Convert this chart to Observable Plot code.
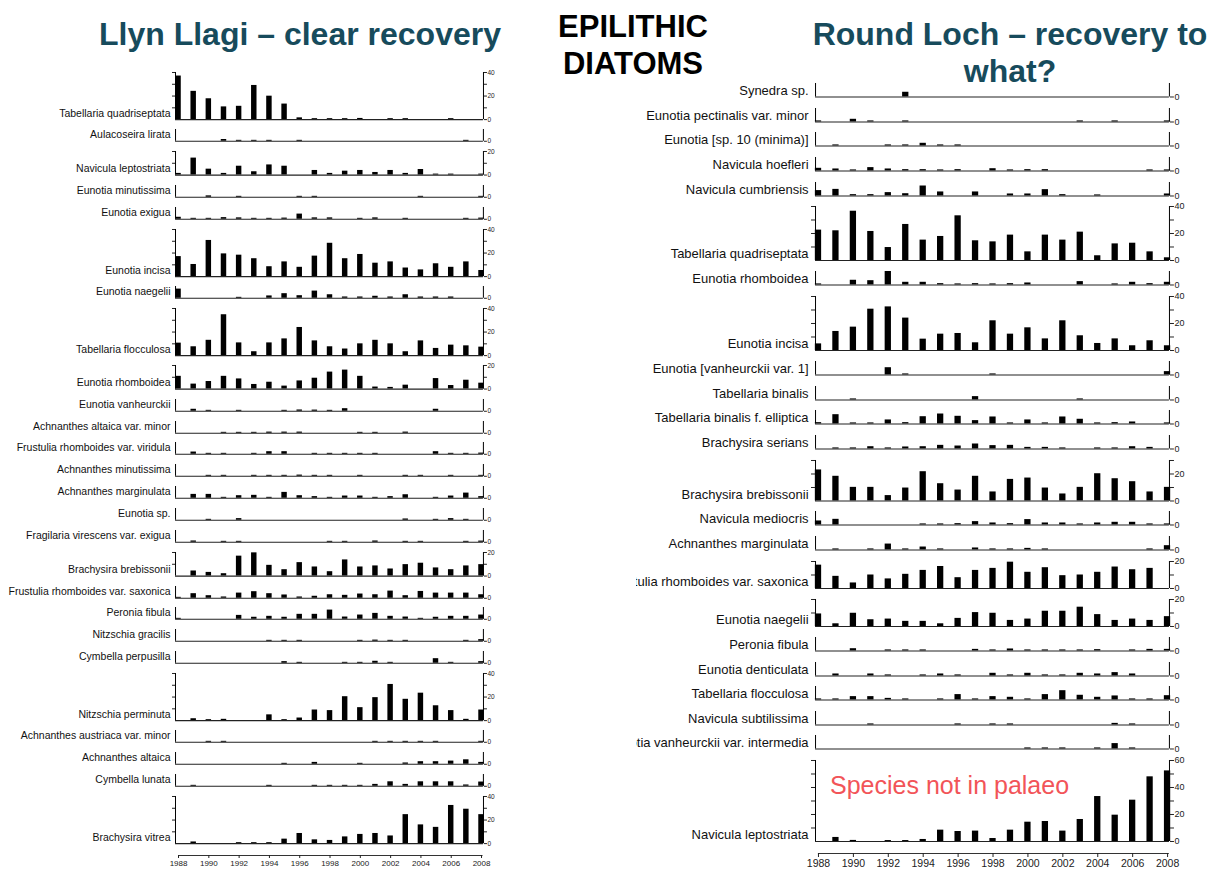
<!DOCTYPE html>
<html><head><meta charset="utf-8">
<script src="https://cdn.jsdelivr.net/npm/d3@7"></script>
<script src="https://cdn.jsdelivr.net/npm/@observablehq/plot@0.6"></script>
<style>
body{margin:0;background:#fff;font-family:"Liberation Sans",Arial,sans-serif;}
#page{position:relative;width:1213px;height:869px;overflow:hidden;background:#fff}
.title{position:absolute;font-weight:bold;font-size:32px;line-height:37px;text-align:center;color:#174b5c;white-space:nowrap}
#center{color:#000;font-size:31px}
.panel{position:absolute;overflow:hidden}
.panel svg{display:block;background:transparent}
#note{position:absolute;left:830px;top:773px;font-size:25px;line-height:25px;color:#f25458;white-space:nowrap}
</style></head>
<body><div id="page">
<div class="title" style="left:0;top:16px;width:600px">Llyn Llagi – clear recovery</div>
<div class="title" id="center" style="left:533px;top:8px;width:200px">EPILITHIC<br>DIATOMS</div>
<div class="title" style="left:800px;top:16px;width:420px">Round Loch – recovery to<br>what?</div>
<div class="panel" id="left" style="left:0;top:67px;width:500px"></div>
<div class="panel" id="right" style="left:636px;top:77px;width:577px"></div>
<div id="note">Species not in palaeo</div>
</div>
<script>
const years = d3.range(1988, 2009);
const evenYears = years.filter(y => y % 2 === 0);

// ---- Llyn Llagi ----
const leftSpecies = ["Tabellaria quadriseptata","Aulacoseira lirata","Navicula leptostriata","Eunotia minutissima","Eunotia exigua","Eunotia incisa","Eunotia naegelii","Tabellaria flocculosa","Eunotia rhomboidea","Eunotia vanheurckii","Achnanthes altaica var. minor","Frustulia rhomboides var. viridula","Achnanthes minutissima","Achnanthes marginulata","Eunotia sp.","Fragilaria virescens var. exigua","Brachysira brebissonii","Frustulia rhomboides var. saxonica","Peronia fibula","Nitzschia gracilis","Cymbella perpusilla","Nitzschia perminuta","Achnanthes austriaca var. minor","Achnanthes altaica","Cymbella lunata","Brachysira vitrea"];
const leftAxisMax = [40,10,20,10,10,40,10,40,20,10,10,10,10,10,10,10,20,10,10,10,10,40,10,10,10,40];
const leftCounts = [
 [37,24,17.7,10.8,11.3,29,19.9,13.2,1.5,0.8,0.8,0.8,1,0,0.8,0.8,0,0,0.8,0,0],
 [0,0,0,1.5,0.8,0.8,0.8,0,0.8,0,0,0,0,0,0,0,0,0,0,0.8,0],
 [1.4,14.4,5,1.4,7.5,2.8,8.6,7.5,0,3.9,1.4,3.3,3.9,2.2,3.9,1.4,4.7,0.8,0.8,0,0.8],
 [0,0,1.2,0,0.8,0,0,0,0.8,0.8,0,0,0,0,0,0,0.8,0,0,0,0.8],
 [1.7,0.8,0.8,1.4,1.2,0.8,0.8,1,4.4,1.2,1.2,0,0.8,1.2,0,0.8,0,0,0,0.8,1],
 [17,10.3,30.7,19.3,18.2,15.2,8.4,12.5,7.9,17.4,28.3,15.2,18.8,11.4,12.5,7.3,5.7,10.9,7.9,12.5,5.2],
 [7.8,0,0,0,0.8,0,2,3.9,2.2,6.1,3,1.1,1.1,1.7,1.1,3,1.1,1.1,1.1,0,0],
 [10.6,7.5,13,34.7,10.8,3.3,10.8,14.2,23.9,12.5,7.5,5.6,10,13,10,3.3,12.5,6.1,8.9,8.3,7.2],
 [10.8,4.2,6.4,10.8,8.6,3.9,5.8,2.5,6.9,9.2,14.4,16.1,10.8,1.7,1.4,3.3,0,8.9,3,7.5,5],
 [0,1.7,0.8,0,0.8,0,0,0.8,1.1,1,0.8,2.2,0,0,0,0,0,1.7,0,0,0],
 [0,0,0,0.8,0.8,0.8,1,1,1,0,0,0,0.8,0.8,0,1,0,0,0,0,0],
 [0,1.9,0.8,0.8,0,0.8,2.2,2.2,0,0.8,0.8,0.8,0.8,0.8,0,0,0,2.2,0.8,0.8,1],
 [0,0,0.8,0.8,0,0.8,0.8,0.8,1,0.8,0.8,0,0.8,0,0,0.8,0.8,0,0.8,0,0.8],
 [0,3.3,3.3,0.8,2.2,2.5,0.8,5,2.2,1.4,0.8,1.9,1.9,0.8,1.4,3,0,0.8,1.9,4.4,1.4],
 [0,0,0.8,0,1.4,0,0,0,0,0,0,0,0,0,0,1.1,0,0.8,1.4,0.8,0],
 [0,1.1,0,0.8,0.8,0,0,0,0,0,0.8,0.8,0,1.1,0,0.8,0.8,0,0,0.8,1],
 [0,4.3,3.1,2,16.9,19.7,9.1,5.4,11.4,7.7,3.7,13.7,7.7,8.6,6,9.7,10.9,6.9,5.4,8.6,9.7],
 [0.8,3.9,2.2,1.1,4.4,5.6,3.9,2.8,1.1,1.7,3,2.5,3.6,3,6.1,2.2,5.8,4.4,4.4,4.4,3],
 [0.8,0,0,0,3.3,1.7,2.5,1.7,4.2,4.2,7.8,1.9,3.6,5,2.5,1.9,0.8,1.7,2.5,2.5,3.6],
 [0,0,0,0,0,0,0.8,0.8,0.8,0,0,0,0.8,1,0.8,0.8,0,0,0,0.8,1.4],
 [0,0,0,0,0,0,0,1.4,0.8,0,0,0.8,0.8,1.7,0.8,0,0,3.9,0.8,0,1.4],
 [0,1.6,0.8,1.1,0,0,4.9,0.8,2.2,9,8.5,20.3,11,19.5,30.7,18.1,23.3,12.6,8.5,1.1,9],
 [0,0,0.8,0.8,0,0,0,0,0,0,0,0,0,0.8,0.8,0.8,0.8,0.8,0,0,0.8],
 [0,0,0,0,0,0,0,0.8,0,1.6,0,0,0.8,0,0,1.1,2.2,2.2,2.7,3.8,1.6],
 [0,0.8,0,0,0,0,0.8,0,0,0.8,0.8,0.8,0.8,1.6,3.8,1.6,3.8,3.8,3.8,1.1,3.6],
 [0,1.4,0,0,0.8,0.8,0.8,3.8,8.6,3.2,2.7,5.7,7.8,8.6,6.5,24.6,15.9,13.8,32.4,29.2,24.6]
];

// ---- Round Loch ----
const rightSpecies = ["Synedra sp.","Eunotia pectinalis var. minor","Eunotia [sp. 10 (minima)]","Navicula hoefleri","Navicula cumbriensis","Tabellaria quadriseptata","Eunotia rhomboidea","Eunotia incisa","Eunotia [vanheurckii var. 1]","Tabellaria binalis","Tabellaria binalis f. elliptica","Brachysira serians","Brachysira brebissonii","Navicula mediocris","Achnanthes marginulata","Frustulia rhomboides var. saxonica","Eunotia naegelii","Peronia fibula","Eunotia denticulata","Tabellaria flocculosa","Navicula subtilissima","Eunotia vanheurckii var. intermedia","Navicula leptostriata"];
const rightAxisMax = [10,10,10,10,10,40,10,40,10,10,10,10,30,10,10,20,20,10,10,10,10,10,60];
const rightCounts = [
 [0,0,0,0,0,3.5,0,0,0,0,0,0,0,0,0,0,0,0,0,0,0],
 [0.8,0,2,0.8,0,0.8,0,0,0,0,0,0,0,0,0,0.8,0,0.8,0,0,0.8],
 [0,0.8,0,0,0.8,0.8,2,0.8,0.8,0,0,0,0,0,0,0,0,0,0,0,0],
 [2,1.5,0.8,2.5,1.5,1,1,0.8,1,0,1.7,0.8,1,1,0,0,0,0,0,0.8,0.8],
 [4,4.9,1,1,2.5,1.7,7.4,3,0,3,0,1.5,1.5,4.7,1,0,0.8,0,0,0,1.5],
 [22.5,22,36.5,21.5,9.6,26.7,15.1,17.8,33.1,14.6,13.8,18.8,6.4,18.8,15.1,21,3.5,12.3,12.8,6.4,2],
 [0.8,0,3.5,3.2,10,2,2,1,0.8,1,0.8,1,1.5,0,0,2.5,0,0.8,2,1,2],
 [4.9,14.1,17.3,30.6,32.3,24,8.4,12.1,12.6,5.7,22,12.1,16.8,8.6,22,10.9,5.2,8.6,3.5,7.2,3.5],
 [0,0,0,0,5.4,0.8,0,0,0,0,0.8,0,0,0,0,0,0,0,0,0,2.5],
 [0,0,0.8,0,0,0,0,0,0,2.5,0,0,0,0,0,0.8,0,0,0,0,0],
 [1,6.9,0.8,0.8,3,1,5.4,7.4,5.7,2.5,5.2,0.8,3,0.8,5.2,3.5,0.8,1,1.5,0,0.8],
 [0,0.8,0.8,1.7,0.8,1.5,1.7,2.7,2.2,3.7,2.5,2.7,1.2,1.2,0.8,0,0.8,0.8,1.7,1.2,0],
 [23,18.3,10.1,10.1,4,9.6,21.7,12.8,8.1,18.3,6.7,16,17,9.6,5.2,10.1,20.2,16.5,14.3,6.7,10.1],
 [3,4.2,0,0,0,0,0.8,0.8,1,2.5,1.5,1,4,1.5,1.5,0.8,1.5,2,2,0.8,0.8],
 [0,0.8,0,0.8,4.4,0.8,2.2,0.8,0,1.5,0.8,0.8,1.2,0.8,0,0,0,0,0,0.8,3.2],
 [17.3,9,4.1,10,7.1,10.5,13.4,16.3,8,13.4,14.9,19.5,12,15.4,9.5,10,12,15.9,13.9,14.9,0],
 [9.3,2,9.8,5,5.5,3.8,3.8,2,6,10.3,9.8,4.5,5.5,11.3,11.3,14.3,8.8,4.5,5.5,4.5,7.3],
 [0,0,1.7,0,0.8,0.8,0.8,0,0,1.2,0.8,1.5,0.8,0.8,0.8,0.8,1,0,0.8,1.2,1.2],
 [0,1.5,0,1.5,0.8,0,0.8,1.5,0.8,0,2,0.8,2,0.8,0.8,2,1.5,2.5,1.5,0,0],
 [0.8,0.8,2.5,2.5,1.2,0.8,0,0.8,4,0.8,2.5,2,0.8,4,6.9,3.5,2,3,0.8,0.8,3.2],
 [0,0,0,0.8,0,0,0,0,0.8,0,0.8,0.8,0,0,0,0,0,1.2,0.8,0,0],
 [0,0,0,0,0,0,0,0,0,0,0,0,0.8,0.8,0.8,0,0.8,4,0.8,0,0],
 [0,3,0.8,0,0.7,0.7,1.5,8.4,7.4,7.7,2.2,8.4,14.3,14.8,7.7,16.3,33.3,19.5,30.6,47.9,52.3]
];

// ---- layout (not data) ----
const leftCfg = {width:500, ml:175, mr:17, mt:5, mb:5.12, k:1.178, xDomain:[1987.8,2008.13], bw:0.18,
  labelFont:10.5, labelDx:-5, labelDy:-3, tickFont:6.5, xFont:8, axisTop:7, tickLen:3, xPad:2};
const rightCfg = {width:577, ml:179, mr:44, mt:6, mb:5.15, k:1.35, xDomain:[1987.83,2008.11], bw:0.18,
  labelFont:13, labelDx:-7, labelDy:-2, tickFont:9, xFont:10.5, axisTop:7, tickLen:4, xPad:2};

const font = '"Liberation Sans", Arial, sans-serif';

function row(name, max, values, cfg) {
  const data = years.map((year, i) => ({year, value: values[i]}));
  const big = max > 10;
  const ticks = big ? d3.range(0, max + 0.01, 10) : [0];
  return Plot.plot({
    width: cfg.width, height: max * cfg.k + cfg.mt + cfg.mb,
    marginLeft: cfg.ml, marginRight: cfg.mr, marginTop: cfg.mt, marginBottom: cfg.mb,
    x: {domain: cfg.xDomain, axis: null},
    y: {domain: [0, max], axis: null},
    style: {fontFamily: font, background: "transparent", color: "#222"},
    marks: [
      Plot.rect(data, {x1: d => d.year - cfg.bw, x2: d => d.year + cfg.bw, y1: 0, y2: "value", fill: "#000"}),
      Plot.ruleY([0], {stroke: "#222", strokeWidth: 1.2}),
      Plot.ruleX(cfg.xDomain, {y1: 0, y2: max, stroke: "#000", strokeWidth: 1}),
      Plot.axisY({anchor: "right", ticks, tickSize: cfg.tickLen, tickPadding: 1,
        tickFormat: d => d % 20 === 0 ? String(d) : "", fontSize: cfg.tickFont, label: null}),
      big ? Plot.axisY({anchor: "left", ticks: ticks.filter(t => t > 0), tickSize: cfg.tickLen,
        tickFormat: () => "", label: null}) : null,
      Plot.text([name], {frameAnchor: "bottom-left", textAnchor: "end", dx: cfg.labelDx, dy: cfg.labelDy,
        fontSize: cfg.labelFont, fill: "#111"})
    ]
  });
}

function xAxisPlot(cfg) {
  const h = 28;
  return Plot.plot({
    width: cfg.width, height: h,
    marginLeft: cfg.ml, marginRight: cfg.mr, marginTop: cfg.axisTop, marginBottom: h - cfg.axisTop,
    x: {domain: cfg.xDomain, axis: null},
    y: {domain: [0, 1], axis: null},
    style: {fontFamily: font, background: "transparent", color: "#222"},
    marks: [
      Plot.ruleY([0], {x1: years[0], x2: years[years.length - 1] + 0.1, stroke: "#333"}),
      Plot.axisX({anchor: "bottom", ticks: evenYears, tickSize: cfg.tickLen, tickPadding: cfg.xPad,
        tickFormat: d => String(d), fontSize: cfg.xFont, label: null})
    ]
  });
}

function panel(el, names, maxes, counts, cfg) {
  names.forEach((n, i) => el.appendChild(row(n, maxes[i], counts[i], cfg)));
  el.appendChild(xAxisPlot(cfg));
}
panel(document.getElementById("left"), leftSpecies, leftAxisMax, leftCounts, leftCfg);
panel(document.getElementById("right"), rightSpecies, rightAxisMax, rightCounts, rightCfg);
</script>
</body></html>
